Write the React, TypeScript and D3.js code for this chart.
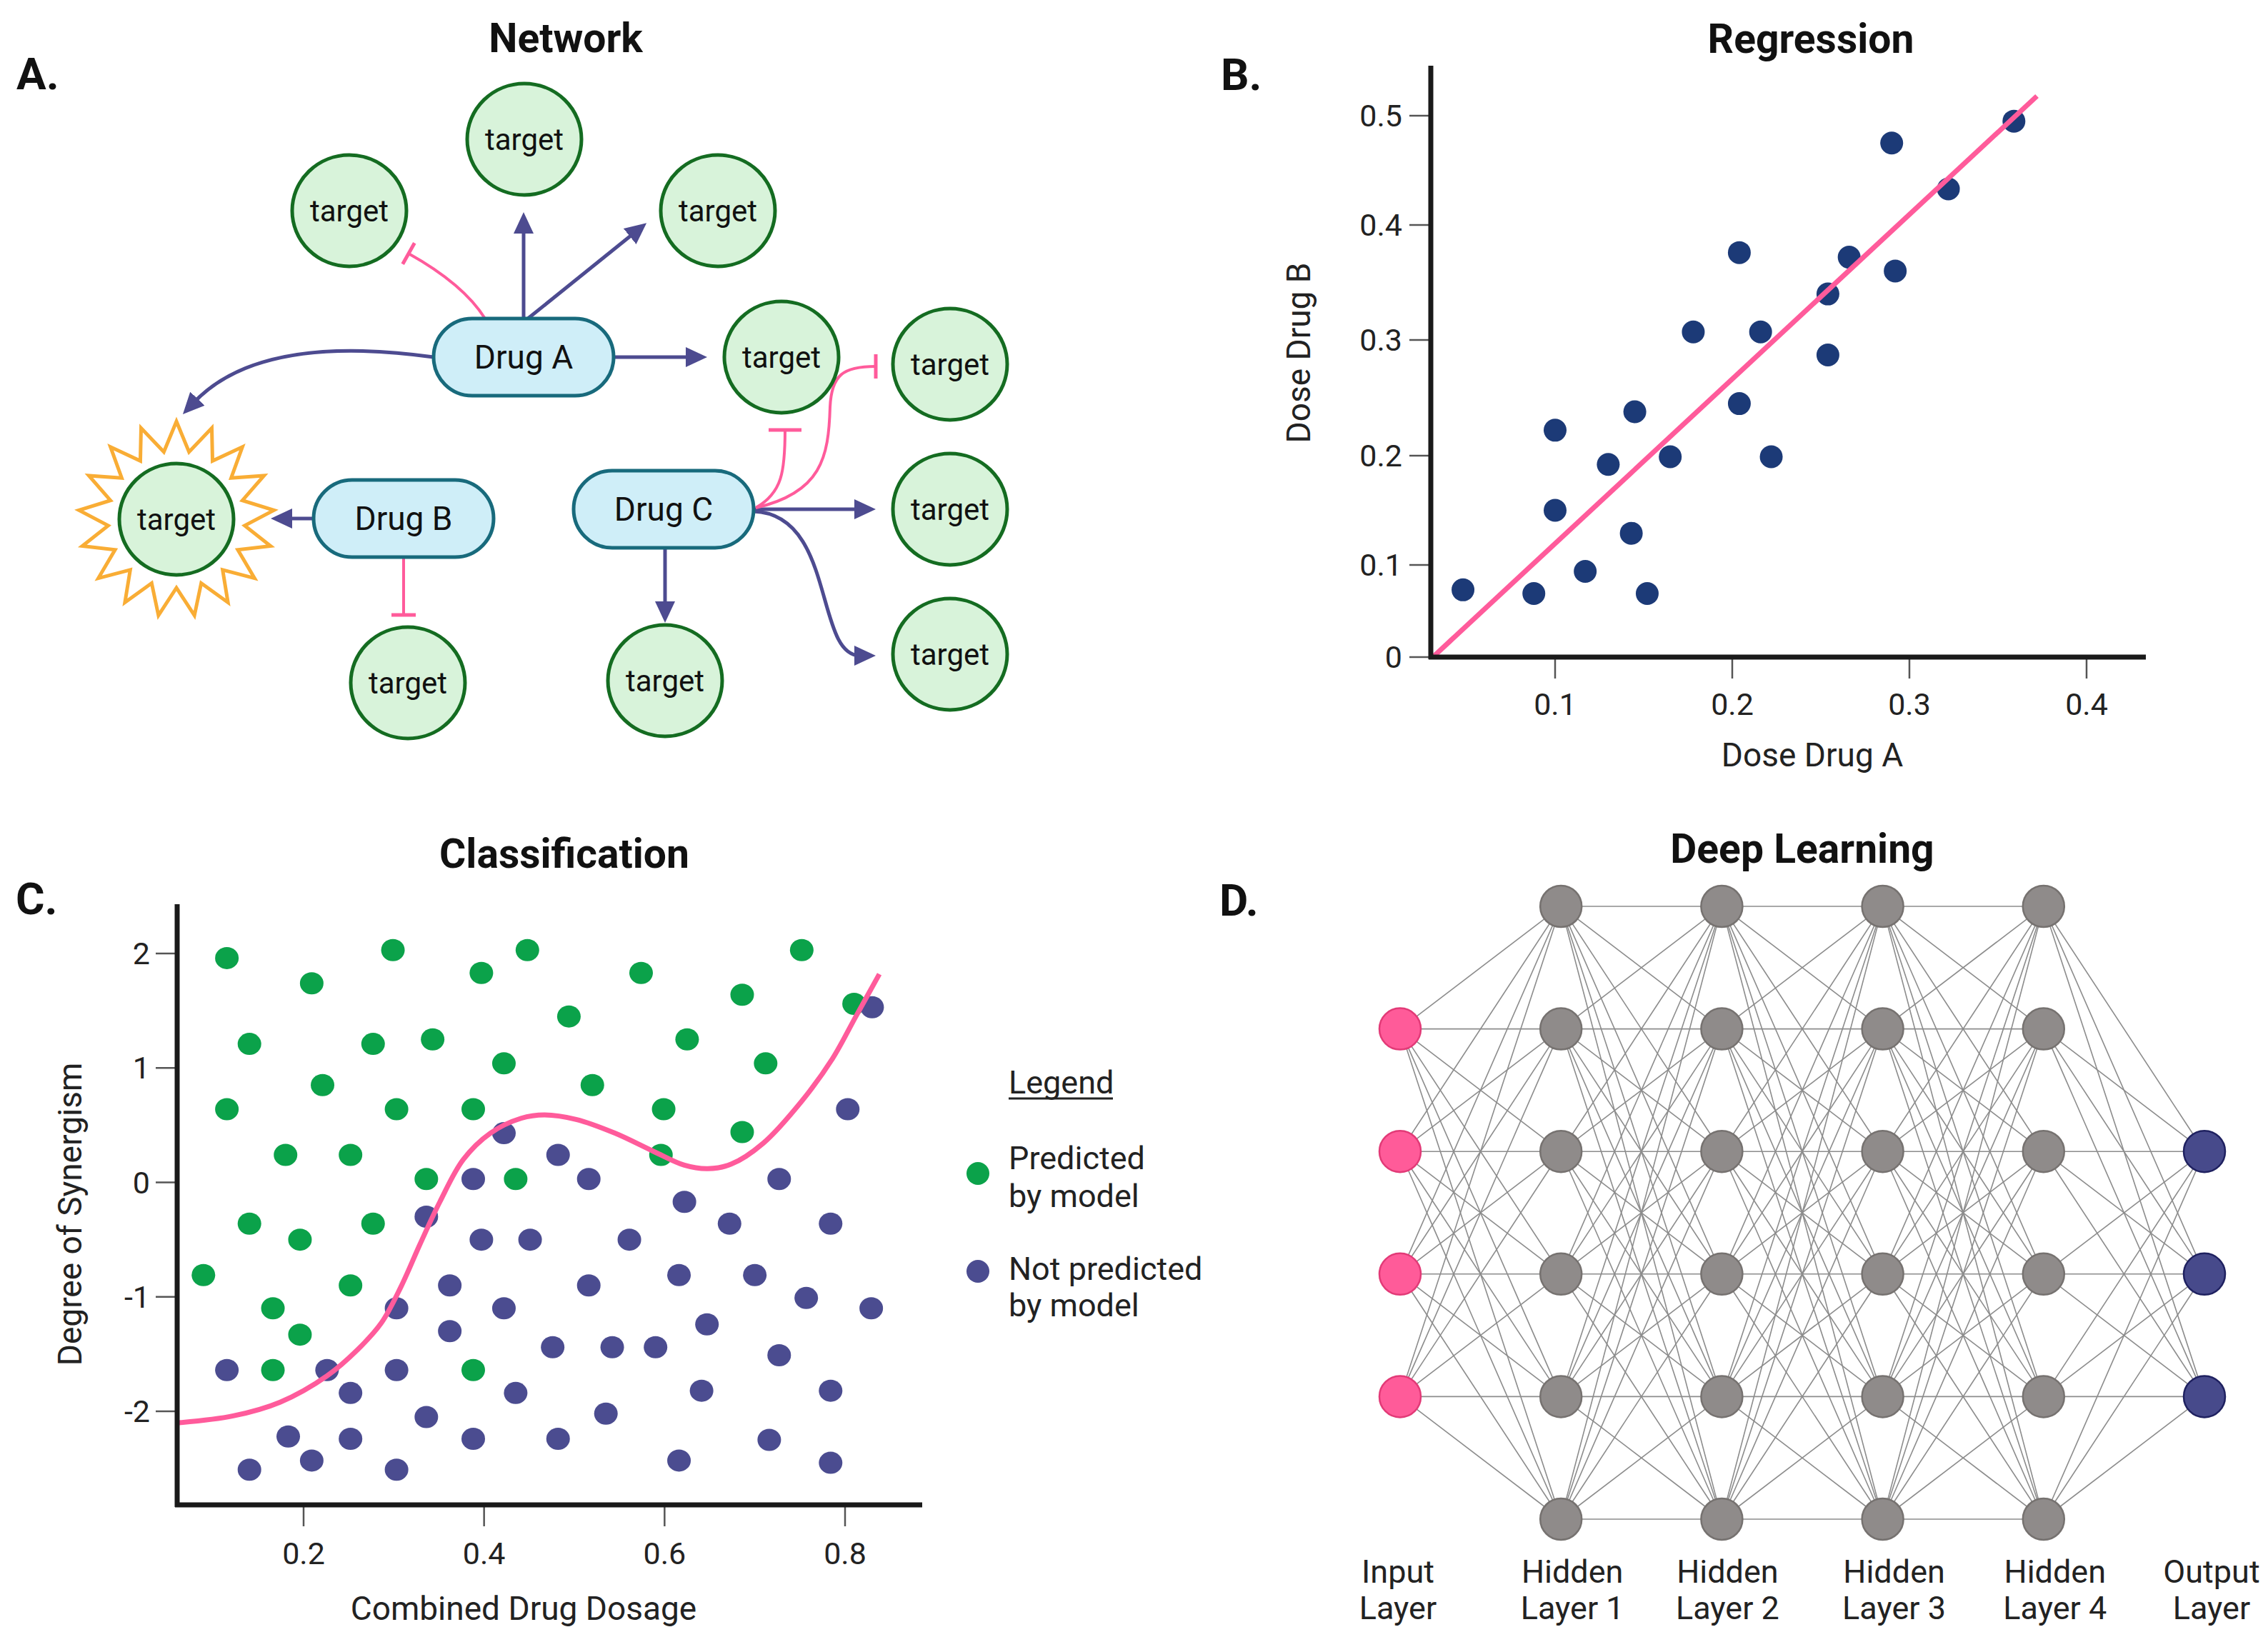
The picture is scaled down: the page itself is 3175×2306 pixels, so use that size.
import React from 'react';
import * as d3 from 'd3';

const FONT = 'Roboto, "Noto Sans", sans-serif';

// ---------- Panel B: Regression ----------
const regDoseA = [0.048, 0.088, 0.100, 0.100, 0.117, 0.130, 0.143, 0.145, 0.152, 0.165, 0.178, 0.204, 0.204, 0.216, 0.222, 0.254, 0.254, 0.266, 0.290, 0.292, 0.322, 0.359];
const regDoseB = [0.073, 0.069, 0.222, 0.150, 0.093, 0.192, 0.129, 0.238, 0.069, 0.199, 0.307, 0.376, 0.245, 0.307, 0.199, 0.340, 0.287, 0.372, 0.475, 0.360, 0.433, 0.495];
const regFitX = [0.031, 0.372];
const regFitY = [0.0, 0.518];
const regXTicks = [0.1, 0.2, 0.3, 0.4];
const regYTicks = [0, 0.1, 0.2, 0.3, 0.4, 0.5];

// ---------- Panel C: Classification ----------
const predX = [0.115, 0.299, 0.448, 0.752, 0.209, 0.397, 0.574, 0.686, 0.810, 0.494, 0.140, 0.277, 0.343, 0.625, 0.422, 0.712, 0.221, 0.520, 0.115, 0.303, 0.388, 0.599, 0.686, 0.180, 0.252, 0.596, 0.336, 0.435, 0.140, 0.277, 0.196, 0.089, 0.252, 0.166, 0.196, 0.166, 0.388];
const predY = [1.96, 2.03, 2.03, 2.03, 1.74, 1.83, 1.83, 1.64, 1.56, 1.45, 1.21, 1.21, 1.25, 1.25, 1.04, 1.04, 0.85, 0.85, 0.64, 0.64, 0.64, 0.64, 0.44, 0.24, 0.24, 0.24, 0.03, 0.03, -0.36, -0.36, -0.50, -0.81, -0.90, -1.10, -1.33, -1.64, -1.64];
const notPredX = [0.830, 0.803, 0.422, 0.482, 0.388, 0.516, 0.727, 0.622, 0.336, 0.672, 0.784, 0.397, 0.451, 0.561, 0.362, 0.516, 0.616, 0.700, 0.757, 0.829, 0.303, 0.422, 0.362, 0.647, 0.476, 0.542, 0.590, 0.727, 0.115, 0.226, 0.303, 0.252, 0.435, 0.641, 0.784, 0.336, 0.535, 0.183, 0.252, 0.388, 0.482, 0.716, 0.209, 0.616, 0.784, 0.140, 0.303];
const notPredY = [1.53, 0.64, 0.43, 0.24, 0.03, 0.03, 0.03, -0.17, -0.30, -0.36, -0.36, -0.50, -0.50, -0.50, -0.90, -0.90, -0.81, -0.81, -1.01, -1.10, -1.10, -1.10, -1.30, -1.24, -1.44, -1.44, -1.44, -1.51, -1.64, -1.64, -1.64, -1.84, -1.84, -1.82, -1.82, -2.05, -2.02, -2.22, -2.24, -2.24, -2.24, -2.25, -2.43, -2.43, -2.45, -2.51, -2.51];
const boundaryX = [0.062, 0.122, 0.174, 0.226, 0.260, 0.286, 0.308, 0.329, 0.351, 0.377, 0.407, 0.441, 0.467, 0.502, 0.545, 0.588, 0.622, 0.648, 0.674, 0.709, 0.752, 0.786, 0.812, 0.838];
const boundaryY = [-2.10, -2.04, -1.92, -1.69, -1.46, -1.23, -0.91, -0.54, -0.17, 0.20, 0.43, 0.56, 0.59, 0.55, 0.43, 0.27, 0.15, 0.12, 0.16, 0.34, 0.71, 1.08, 1.45, 1.82];
const clsXTicks = [0.2, 0.4, 0.6, 0.8];
const clsYTicks = [2, 1, 0, -1, -2];
const legendLabels = [['Predicted', 'by model'], ['Not predicted', 'by model']];

// ---------- Panel D: Deep learning ----------
const layerNames = [['Input', 'Layer'], ['Hidden', 'Layer 1'], ['Hidden', 'Layer 2'], ['Hidden', 'Layer 3'], ['Hidden', 'Layer 4'], ['Output', 'Layer']];
const layerSlots = [[1, 2, 3, 4], [0, 1, 2, 3, 4, 5], [0, 1, 2, 3, 4, 5], [0, 1, 2, 3, 4, 5], [0, 1, 2, 3, 4, 5], [2, 3, 4]];
const layerKind = ['input', 'hidden', 'hidden', 'hidden', 'hidden', 'output'];

// ---------- Panel A: Network ----------
const targetNodes = [
  [734, 195], [489, 295], [1005, 295], [1094, 500], [1330, 510],
  [1330, 713], [1330, 916], [931, 953], [571, 956], [247, 727],
];
const drugNodes = [
  { label: 'Drug A', c: [733, 500] },
  { label: 'Drug B', c: [565, 726] },
  { label: 'Drug C', c: [929, 713] },
];
const netEdges = [
  { d: 'M733,446 L733,319', kind: 'act' },
  { d: 'M739,446 L888,326', kind: 'act' },
  { d: 'M679,446 Q649,398 572,355', kind: 'inh' },
  { d: 'M859,500 L968,500', kind: 'act' },
  { d: 'M607,500 C500,485 350,480 271,564', kind: 'act' },
  { d: 'M439,726 L401,726', kind: 'act' },
  { d: 'M565,780 L565,861', kind: 'inh' },
  { d: 'M931,767 L931,850', kind: 'act' },
  { d: 'M1055,713 L1204,713', kind: 'act' },
  { d: 'M1055,716 C1170,720 1140,918 1204,918', kind: 'act' },
  { d: 'M1058,711 C1095,690 1099,660 1099,602', kind: 'inhL' },
  { d: 'M1058,711 C1150,690 1160,640 1162,570 C1164,525 1180,513 1226,513', kind: 'inh' },
];

const PINK = '#ff5b9b';
const PURPLE = '#4d4b90';
const NAVY = '#1c3a77';
const GREEN = '#0ba24a';
const CPURPLE = '#4b4c90';
const AXIS = '#1a1a1a';
const TICK = '#555';

function sunPoints(cx: number, cy: number, n: number, rOut: number, rIn: number) {
  const pts: [number, number][] = [];
  for (let i = 0; i < n * 2; i++) {
    const a = -Math.PI / 2 + (i * Math.PI) / n;
    const r = i % 2 === 0 ? rOut : rIn;
    pts.push([cx + r * Math.cos(a), cy + r * Math.sin(a)]);
  }
  return pts.map((p) => p.join(',')).join(' ');
}

function NetworkPanel() {
  return (
    <g>
      <text x={23} y={125} fontSize={62} fontWeight={700} fill="#111">A.</text>
      <text x={792} y={73} fontSize={57} fontWeight={700} textAnchor="middle" fill="#111">Network</text>
      <polygon points={sunPoints(247, 727, 17, 137, 96)} fill="#fff" stroke="#f9ad35" strokeWidth={5} strokeLinejoin="miter" />
      {netEdges.map((e, i) => (
        <path key={i} d={e.d} fill="none" stroke={e.kind === 'act' ? PURPLE : PINK}
          strokeWidth={e.kind === 'act' ? 5 : 4}
          markerEnd={e.kind === 'act' ? 'url(#arrowP)' : e.kind === 'inhL' ? 'url(#inhL)' : 'url(#inh)'} />
      ))}
      {targetNodes.map(([x, y], i) => (
        <g key={i}>
          <ellipse cx={x} cy={y} rx={80} ry={78} fill="#d8f3da" stroke="#146c21" strokeWidth={5} />
          <text x={x} y={y} dy="0.35em" textAnchor="middle" fontSize={42} fill="#111">target</text>
        </g>
      ))}
      {drugNodes.map((n, i) => (
        <g key={i}>
          <rect x={n.c[0] - 126} y={n.c[1] - 54} width={252} height={108} rx={54} ry={54} fill="#cfeef8" stroke="#186a7c" strokeWidth={5} />
          <text x={n.c[0]} y={n.c[1]} dy="0.35em" textAnchor="middle" fontSize={46} fill="#111">{n.label}</text>
        </g>
      ))}
    </g>
  );
}

function RegressionPanel() {
  const x = d3.scaleLinear().domain([0.1, 0.4]).range([2177, 2921]);
  const y = d3.scaleLinear().domain(regYTicks).range([920, 791, 638, 476, 315, 162]);
  const x0 = 2003, y0 = 920;
  const fit = d3.line<number>().x((d) => x(regFitX[d])).y((d) => y(regFitY[d]));
  return (
    <g>
      <text x={1709} y={126} fontSize={62} fontWeight={700} fill="#111">B.</text>
      <text x={2535} y={74} fontSize={57} fontWeight={700} textAnchor="middle" fill="#111">Regression</text>
      {regYTicks.map((t) => (
        <g key={t}>
          <line x1={x0 - 30} x2={x0} y1={y(t)} y2={y(t)} stroke={TICK} strokeWidth={2.5} />
          <text x={x0 - 40} y={y(t)} dy="0.35em" textAnchor="end" fontSize={43} fill="#222">{d3.format('')(t)}</text>
        </g>
      ))}
      {regXTicks.map((t) => (
        <g key={t}>
          <line x1={x(t)} x2={x(t)} y1={y0 + 3} y2={y0 + 30} stroke={TICK} strokeWidth={2.5} />
          <text x={x(t)} y={986} dy="0.35em" textAnchor="middle" fontSize={43} fill="#222">{t}</text>
        </g>
      ))}
      {regDoseA.map((a, i) => (
        <circle key={i} cx={x(a)} cy={y(regDoseB[i])} r={16} fill={NAVY} />
      ))}
      <path d={fit([0, 1]) || ''} stroke={PINK} strokeWidth={7} fill="none" />
      <line x1={x0} x2={x0} y1={92} y2={y0 + 3} stroke={AXIS} strokeWidth={7} />
      <line x1={x0 - 3} x2={3004} y1={y0} y2={y0} stroke={AXIS} strokeWidth={7} />
      <text x={2537} y={1057} dy="0.35em" textAnchor="middle" fontSize={46} fill="#222">Dose Drug A</text>
      <text transform="translate(1818,494) rotate(-90)" dy="0.35em" textAnchor="middle" fontSize={46} fill="#222">Dose Drug B</text>
    </g>
  );
}

function ClassificationPanel() {
  const x = d3.scaleLinear().domain([0.2, 0.8]).range([425, 1183]);
  const y = d3.scaleLinear().domain([-2, 2]).range([1976, 1335]);
  const x0 = 248, y0 = 2107;
  const curve = d3.line<number>().x((i) => x(boundaryX[i])).y((i) => y(boundaryY[i])).curve(d3.curveCatmullRom.alpha(0.5));
  return (
    <g>
      <text x={22} y={1280} fontSize={62} fontWeight={700} fill="#111">C.</text>
      <text x={790} y={1215} fontSize={57} fontWeight={700} textAnchor="middle" fill="#111">Classification</text>
      {clsYTicks.map((t) => (
        <g key={t}>
          <line x1={x0 - 30} x2={x0} y1={y(t)} y2={y(t)} stroke={TICK} strokeWidth={2.5} />
          <text x={x0 - 38} y={y(t)} dy="0.35em" textAnchor="end" fontSize={43} fill="#222">{t}</text>
        </g>
      ))}
      {clsXTicks.map((t) => (
        <g key={t}>
          <line x1={x(t)} x2={x(t)} y1={y0 + 3} y2={y0 + 30} stroke={TICK} strokeWidth={2.5} />
          <text x={x(t)} y={2175} dy="0.35em" textAnchor="middle" fontSize={43} fill="#222">{t}</text>
        </g>
      ))}
      {predX.map((v, i) => (
        <ellipse key={'g' + i} cx={x(v)} cy={y(predY[i])} rx={16.5} ry={15.5} fill={GREEN} />
      ))}
      {notPredX.map((v, i) => (
        <ellipse key={'p' + i} cx={x(v)} cy={y(notPredY[i])} rx={16.5} ry={15.5} fill={CPURPLE} />
      ))}
      <path d={curve(d3.range(boundaryX.length)) || ''} stroke={PINK} strokeWidth={7} fill="none" />
      <line x1={x0} x2={x0} y1={1266} y2={y0 + 3} stroke={AXIS} strokeWidth={7} />
      <line x1={x0 - 3} x2={1291} y1={y0} y2={y0} stroke={AXIS} strokeWidth={7} />
      <text x={733} y={2252} dy="0.35em" textAnchor="middle" fontSize={46} fill="#222">Combined Drug Dosage</text>
      <text transform="translate(98,1700) rotate(-90)" dy="0.35em" textAnchor="middle" fontSize={46} fill="#222">Degree of Synergism</text>
      {/* legend */}
      <text x={1412} y={1531} fontSize={45} fill="#222">Legend</text>
      <line x1={1412} x2={1558} y1={1538} y2={1538} stroke="#222" strokeWidth={3} />
      {legendLabels.map((lab, i) => (
        <g key={i}>
          <circle cx={1369} cy={1643 + i * 137} r={16} fill={i === 0 ? GREEN : CPURPLE} />
          <text x={1412} y={1637 + i * 155} fontSize={45} fill="#222">{lab[0]}</text>
          <text x={1412} y={1690 + i * 153} fontSize={45} fill="#222">{lab[1]}</text>
        </g>
      ))}
    </g>
  );
}

function DeepPanel() {
  const xCol = d3.scalePoint<number>().domain(d3.range(6)).range([1960, 3086]);
  const yRow = d3.scalePoint<number>().domain(d3.range(6)).range([1269, 2127]);
  const nodes = layerSlots.map((slots, li) => slots.map((s) => ({ x: xCol(li) as number, y: yRow(s) as number, kind: layerKind[li] })));
  const links: { x1: number; y1: number; x2: number; y2: number }[] = [];
  for (let l = 0; l < nodes.length - 1; l++) {
    for (const a of nodes[l]) for (const b of nodes[l + 1]) links.push({ x1: a.x, y1: a.y, x2: b.x, y2: b.y });
  }
  const fill: Record<string, string> = { input: '#ff5b99', hidden: '#8f8b8a', output: '#474a8b' };
  const stroke: Record<string, string> = { input: '#e23a77', hidden: '#767270', output: '#1f2160' };
  const labelShift = [-3, 16, 8, 16, 16, 10];
  return (
    <g>
      <text x={1707} y={1282} fontSize={62} fontWeight={700} fill="#111">D.</text>
      <text x={2523} y={1208} fontSize={57} fontWeight={700} textAnchor="middle" fill="#111">Deep Learning</text>
      {links.map((k, i) => (
        <line key={i} x1={k.x1} y1={k.y1} x2={k.x2} y2={k.y2} stroke="#8c8c8c" strokeWidth={1.6} />
      ))}
      {nodes.flat().map((n, i) => (
        <circle key={i} cx={n.x} cy={n.y} r={29} fill={fill[n.kind]} stroke={stroke[n.kind]} strokeWidth={2.5} />
      ))}
      {layerNames.map((nm, i) => (
        <g key={i}>
          <text x={(xCol(i) as number) + labelShift[i]} y={2200} dy="0.35em" textAnchor="middle" fontSize={45} fill="#222">{nm[0]}</text>
          <text x={(xCol(i) as number) + labelShift[i]} y={2251} dy="0.35em" textAnchor="middle" fontSize={45} fill="#222">{nm[1]}</text>
        </g>
      ))}
    </g>
  );
}

export default function App() {
  const W = 3175, H = 2306;
  return (
    <div style={{ position: 'absolute', left: 0, top: 0 }}>
      <svg width={W} height={H} viewBox={`0 0 ${W} ${H}`} style={{ display: 'block', background: '#fff' }} fontFamily={FONT}>
        <defs>
          <marker id="arrowP" viewBox="0 0 30 28" refX={8} refY={14} markerWidth={30} markerHeight={28} markerUnits="userSpaceOnUse" orient="auto">
            <path d="M0,0 L30,14 L0,28 Z" fill={PURPLE} />
          </marker>
          <marker id="inh" viewBox="-4 -20 8 40" refX={0} refY={0} markerWidth={8} markerHeight={40} markerUnits="userSpaceOnUse" orient="auto">
            <line x1={0} y1={-17} x2={0} y2={17} stroke={PINK} strokeWidth={5} />
          </marker>
          <marker id="inhL" viewBox="-4 -26 8 52" refX={0} refY={0} markerWidth={8} markerHeight={52} markerUnits="userSpaceOnUse" orient="auto">
            <line x1={0} y1={-23} x2={0} y2={23} stroke={PINK} strokeWidth={5} />
          </marker>
        </defs>
        <NetworkPanel />
        <RegressionPanel />
        <ClassificationPanel />
        <DeepPanel />
      </svg>
    </div>
  );
}
